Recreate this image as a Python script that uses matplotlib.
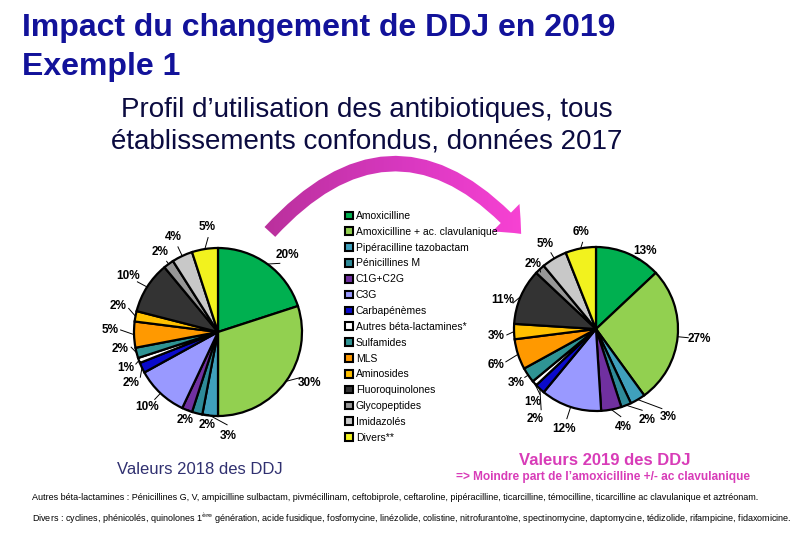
import numpy as np
import matplotlib
matplotlib.use("Agg")
import matplotlib.pyplot as plt
from matplotlib.patches import FancyArrowPatch
from matplotlib.colors import LinearSegmentedColormap

plt.rcParams['font.family'] = ['Liberation Sans', 'DejaVu Sans']

# ---------------- data ----------------
categories = [
    "Amoxicilline", "Amoxicilline + ac. clavulanique", "Pipéracilline tazobactam",
    "Pénicillines M", "C1G+C2G", "C3G", "Carbapénèmes", "Autres béta-lactamines*",
    "Sulfamides", "MLS", "Aminosides", "Fluoroquinolones", "Glycopeptides",
    "Imidazolés", "Divers**",
]
values_2018 = [20, 30, 3, 2, 2, 10, 2, 1, 2, 5, 2, 10, 2, 4, 5]
values_2019 = [13, 27, 3, 2, 4, 12, 2, 1, 3, 6, 3, 11, 2, 5, 6]

colors = ["#00B050", "#92D050", "#3FA0BC", "#2E8B99", "#7030A0", "#9999FF",
          "#0A0ACC", "#FFFFFF", "#2F9494", "#FF9900", "#FFC000", "#333333",
          "#969696", "#C8C8C8", "#F2F21E"]

# label nudges (angle offset in degrees, radial distance) - layout only
nudge_2018 = [(-6, 1.23), (7, 1.25), (11, 1.24), (8, 1.12), (1, 1.12), (0, 1.23),
              (5, 1.20), (1.5, 1.18), (-4.5, 1.18), (-3, 1.29), (-4, 1.23),
              (0.5, 1.26), (0, 1.17), (0, 1.25), (-3, 1.26)]
nudge_2019 = [(-8.5, 1.12), (0, 1.26), (9, 1.39), (8, 1.27), (5, 1.24), (0, 1.28),
              (9, 1.32), (8, 1.18), (0, 1.18), (2, 1.30), (2, 1.22), (6, 1.19),
              (1, 1.10), (0, 1.21), (-2, 1.20)]

W, H = 810, 540
fig = plt.figure(figsize=(W / 100, H / 100), dpi=100)
fig.patch.set_facecolor("white")

# overlay axes in pixel coordinates
ax0 = fig.add_axes([0, 0, 1, 1])
ax0.set_xlim(0, W)
ax0.set_ylim(H, 0)
ax0.axis("off")

title_color = "#12129A"
ax0.text(22, 36, "Impact du changement de DDJ en 2019", fontsize=23, fontweight="bold",
         color=title_color, ha="left", va="baseline")
ax0.text(22, 75, "Exemple 1", fontsize=23, fontweight="bold",
         color=title_color, ha="left", va="baseline")

sub_color = "#0B0B40"
ax0.text(367, 117, "Profil d\u2019utilisation des antibiotiques, tous", fontsize=20,
         color=sub_color, ha="center", va="baseline")
ax0.text(367, 149, "établissements confondus, données 2017", fontsize=20,
         color=sub_color, ha="center", va="baseline")

ax0.text(200, 474, "Valeurs 2018 des DDJ", fontsize=12, color="#303070",
         ha="center", va="baseline")
ax0.text(605, 465, "Valeurs 2019 des DDJ", fontsize=12, fontweight="bold",
         color="#D83CB8", ha="center", va="baseline")
ax0.text(603, 480, "=> Moindre part de l\u2019amoxicilline +/- ac clavulanique", fontsize=8.6,
         fontweight="bold", color="#D83CB8", ha="center", va="baseline")

ax0.text(32, 500, "Autres béta-lactamines : Pénicillines G, V, ampicilline sulbactam, pivmécillinam, "
         "ceftobiprole, ceftaroline, pipéracilline, ticarcilline, témocilline, ticarcilline ac "
         "clavulanique et aztréonam.", fontsize=6.5, color="black", ha="left", va="baseline")
ax0.text(32, 522, "Divers : cyclines, phénicolés, quinolones 1$^{\\rm ère}$ génération, acide fusidique, "
         "fosfomycine, linézolide, colistine, nitrofurantoïne, spectinomycine, daptomycine, "
         "tédizolide, rifampicine, fidaxomicine.", fontsize=6.5, color="black",
         ha="left", va="baseline")

# curved gradient arrow
arrow = FancyArrowPatch((268, 234), (523, 236), connectionstyle="arc3,rad=-0.56",
                        arrowstyle="simple,head_width=2.8,head_length=1.6,tail_width=1.05",
                        mutation_scale=10, facecolor="none", edgecolor="none")
ax0.add_patch(arrow)
cmap = LinearSegmentedColormap.from_list("mag", ["#B8309A", "#D838C0", "#FF44D8"])
grad = np.linspace(0, 1, 256).reshape(1, -1)
im = ax0.imshow(grad, cmap=cmap, extent=(255, 550, 245, 145), aspect="auto",
                interpolation="bilinear", zorder=2)
im.set_clip_path(arrow)
ax0.set_xlim(0, W)
ax0.set_ylim(H, 0)


def draw_pie(cx, cy, r, values, nudges):
    ax = fig.add_axes([(cx - r) / W, 1 - (cy + r) / H, 2 * r / W, 2 * r / H])
    wedges, _ = ax.pie(values, colors=colors, startangle=90, counterclock=False,
                       radius=1.0,
                       wedgeprops=dict(edgecolor="black", linewidth=1.6))
    ax.set_xlim(-1, 1)
    ax.set_ylim(-1, 1)
    ax.set_aspect("auto")
    ax.axis("off")
    for w, v, (da, dist) in zip(wedges, values, nudges):
        mid = np.deg2rad((w.theta1 + w.theta2) / 2)
        la = mid + np.deg2rad(da)
        x0, y0 = np.cos(mid), np.sin(mid)
        x1, y1 = (dist - 0.13) * np.cos(la), (dist - 0.13) * np.sin(la)
        ax.plot([x0, x1], [y0, y1], color="black", lw=0.7, clip_on=False)
        ax.text(dist * np.cos(la), dist * np.sin(la), f"{v}%", fontsize=8.5,
                fontweight="bold", ha="center", va="center", clip_on=False)
    return wedges


wedges_l = draw_pie(218, 332, 84, values_2018, nudge_2018)
draw_pie(596, 329, 82, values_2019, nudge_2019)

leg = fig.legend(wedges_l, categories, loc="upper left",
                 bbox_to_anchor=(345 / W, 1 - 211 / H), frameon=False,
                 fontsize=7.5, handlelength=0.75, handleheight=0.75,
                 handletextpad=0.3, labelspacing=0.56, borderpad=0, borderaxespad=0)
for h in leg.legend_handles:
    h.set_linewidth(1.5)

fig.savefig("out.png", dpi=100, facecolor="white")
